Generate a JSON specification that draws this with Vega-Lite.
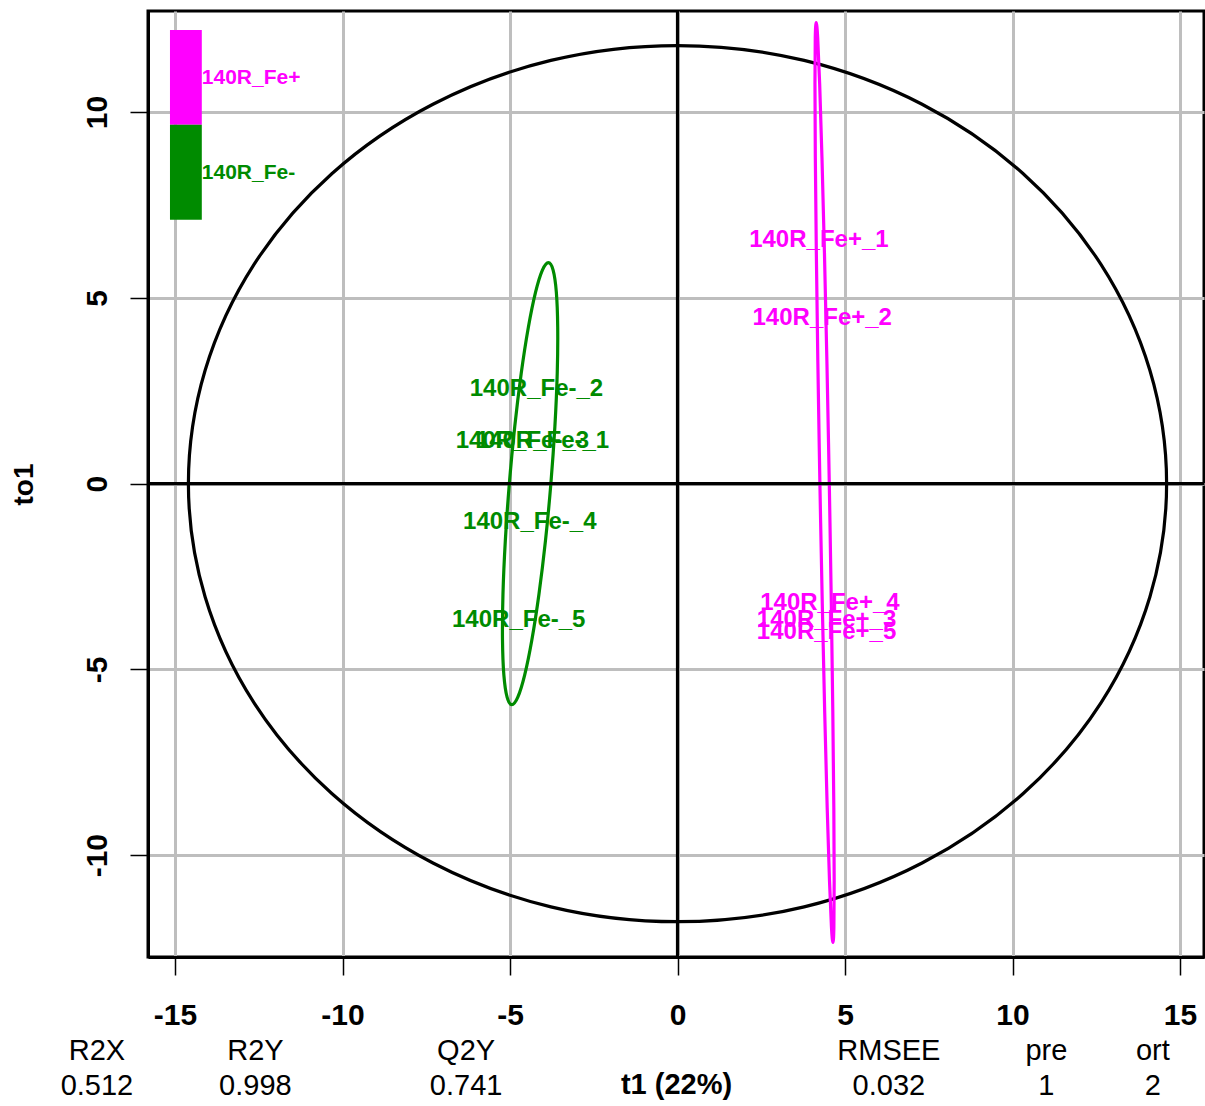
{
  "$schema": "https://vega.github.io/schema/vega-lite/v6.json",
  "width": 1056,
  "height": 946,
  "autosize": {"type": "none"},
  "padding": {"left": 148, "top": 11, "right": 1, "bottom": 149},
  "background": "white",
  "config": {
    "view": {"stroke": "black", "strokeWidth": 3},
    "font": "Liberation Sans",
    "text": {"font": "Liberation Sans"}
  },
  "datasets": {
    "circle": [
      {"i": 0, "x": 14.6, "y": 0}, {"i": 1, "x": 14.10, "y": 3.05}, {"i": 2, "x": 12.64, "y": 5.90},
      {"i": 3, "x": 10.32, "y": 8.34}, {"i": 4, "x": 7.30, "y": 10.21}, {"i": 5, "x": 3.78, "y": 11.39},
      {"i": 6, "x": 0, "y": 11.79}, {"i": 7, "x": -3.78, "y": 11.39}, {"i": 8, "x": -7.30, "y": 10.21},
      {"i": 9, "x": -10.32, "y": 8.34}, {"i": 10, "x": -12.64, "y": 5.90}, {"i": 11, "x": -14.10, "y": 3.05},
      {"i": 12, "x": -14.6, "y": 0}, {"i": 13, "x": -14.10, "y": -3.05}, {"i": 14, "x": -12.64, "y": -5.90},
      {"i": 15, "x": -10.32, "y": -8.34}, {"i": 16, "x": -7.30, "y": -10.21}, {"i": 17, "x": -3.78, "y": -11.39},
      {"i": 18, "x": 0, "y": -11.79}, {"i": 19, "x": 3.78, "y": -11.39}, {"i": 20, "x": 7.30, "y": -10.21},
      {"i": 21, "x": 10.32, "y": -8.34}, {"i": 22, "x": 12.64, "y": -5.90}, {"i": 23, "x": 14.10, "y": -3.05}
    ],
    "ellipses": [
      {"g": "140R_Fe-", "i": 0, "x": -3.854, "y": 5.95}, {"g": "140R_Fe-", "i": 1, "x": -3.713, "y": 5.747},
      {"g": "140R_Fe-", "i": 2, "x": -3.617, "y": 5.153}, {"g": "140R_Fe-", "i": 3, "x": -3.576, "y": 4.207},
      {"g": "140R_Fe-", "i": 4, "x": -3.590, "y": 2.975}, {"g": "140R_Fe-", "i": 5, "x": -3.660, "y": 1.540},
      {"g": "140R_Fe-", "i": 6, "x": -3.780, "y": 0}, {"g": "140R_Fe-", "i": 7, "x": -3.942, "y": -1.540},
      {"g": "140R_Fe-", "i": 8, "x": -4.136, "y": -2.975}, {"g": "140R_Fe-", "i": 9, "x": -4.348, "y": -4.207},
      {"g": "140R_Fe-", "i": 10, "x": -4.563, "y": -5.153}, {"g": "140R_Fe-", "i": 11, "x": -4.767, "y": -5.747},
      {"g": "140R_Fe-", "i": 12, "x": -4.946, "y": -5.95}, {"g": "140R_Fe-", "i": 13, "x": -5.087, "y": -5.747},
      {"g": "140R_Fe-", "i": 14, "x": -5.183, "y": -5.153}, {"g": "140R_Fe-", "i": 15, "x": -5.224, "y": -4.207},
      {"g": "140R_Fe-", "i": 16, "x": -5.210, "y": -2.975}, {"g": "140R_Fe-", "i": 17, "x": -5.140, "y": -1.540},
      {"g": "140R_Fe-", "i": 18, "x": -5.020, "y": 0}, {"g": "140R_Fe-", "i": 19, "x": -4.858, "y": 1.540},
      {"g": "140R_Fe-", "i": 20, "x": -4.664, "y": 2.975}, {"g": "140R_Fe-", "i": 21, "x": -4.452, "y": 4.207},
      {"g": "140R_Fe-", "i": 22, "x": -4.237, "y": 5.153}, {"g": "140R_Fe-", "i": 23, "x": -4.033, "y": 5.747},
      {"g": "140R_Fe+", "i": 0, "x": 4.140, "y": 12.41}, {"g": "140R_Fe+", "i": 1, "x": 4.185, "y": 11.99},
      {"g": "140R_Fe+", "i": 2, "x": 4.244, "y": 10.75}, {"g": "140R_Fe+", "i": 3, "x": 4.312, "y": 8.78},
      {"g": "140R_Fe+", "i": 4, "x": 4.386, "y": 6.22}, {"g": "140R_Fe+", "i": 5, "x": 4.461, "y": 3.23},
      {"g": "140R_Fe+", "i": 6, "x": 4.530, "y": 0.03}, {"g": "140R_Fe+", "i": 7, "x": 4.590, "y": -3.17},
      {"g": "140R_Fe+", "i": 8, "x": 4.636, "y": -6.16}, {"g": "140R_Fe+", "i": 9, "x": 4.666, "y": -8.72},
      {"g": "140R_Fe+", "i": 10, "x": 4.677, "y": -10.69}, {"g": "140R_Fe+", "i": 11, "x": 4.668, "y": -11.93},
      {"g": "140R_Fe+", "i": 12, "x": 4.640, "y": -12.35}, {"g": "140R_Fe+", "i": 13, "x": 4.595, "y": -11.93},
      {"g": "140R_Fe+", "i": 14, "x": 4.537, "y": -10.69}, {"g": "140R_Fe+", "i": 15, "x": 4.468, "y": -8.72},
      {"g": "140R_Fe+", "i": 16, "x": 4.394, "y": -6.16}, {"g": "140R_Fe+", "i": 17, "x": 4.320, "y": -3.17},
      {"g": "140R_Fe+", "i": 18, "x": 4.250, "y": 0.03}, {"g": "140R_Fe+", "i": 19, "x": 4.190, "y": 3.23},
      {"g": "140R_Fe+", "i": 20, "x": 4.144, "y": 6.22}, {"g": "140R_Fe+", "i": 21, "x": 4.114, "y": 8.78},
      {"g": "140R_Fe+", "i": 22, "x": 4.103, "y": 10.75}, {"g": "140R_Fe+", "i": 23, "x": 4.112, "y": 11.99}
    ],
    "samples": [
      {"lab": "140R_Fe+_1", "g": "140R_Fe+", "x": 4.22, "y": 6.57},
      {"lab": "140R_Fe+_2", "g": "140R_Fe+", "x": 4.32, "y": 4.46},
      {"lab": "140R_Fe+_3", "g": "140R_Fe+", "x": 4.45, "y": -3.67},
      {"lab": "140R_Fe+_4", "g": "140R_Fe+", "x": 4.55, "y": -3.21},
      {"lab": "140R_Fe+_5", "g": "140R_Fe+", "x": 4.45, "y": -3.99},
      {"lab": "140R_Fe-_1", "g": "140R_Fe-", "x": -4.03, "y": 1.15},
      {"lab": "140R_Fe-_2", "g": "140R_Fe-", "x": -4.21, "y": 2.55},
      {"lab": "140R_Fe-_3", "g": "140R_Fe-", "x": -4.63, "y": 1.15},
      {"lab": "140R_Fe-_4", "g": "140R_Fe-", "x": -4.41, "y": -1.02},
      {"lab": "140R_Fe-_5", "g": "140R_Fe-", "x": -4.74, "y": -3.67}
    ],
    "legend": [
      {"g": "140R_Fe+", "x": -15.15, "x2": -14.20, "y": 12.21, "y2": 9.66, "ym": 10.92},
      {"g": "140R_Fe-", "x": -15.15, "x2": -14.20, "y": 9.66, "y2": 7.10, "ym": 8.36}
    ],
    "zeroX": [{"x": 0}],
    "zeroY": [{"y": 0}],
    "stats": [
      {"t": "R2X", "x": -17.33, "y": -15.27}, {"t": "0.512", "x": -17.33, "y": -16.21},
      {"t": "R2Y", "x": -12.60, "y": -15.27}, {"t": "0.998", "x": -12.60, "y": -16.21},
      {"t": "Q2Y", "x": -6.31, "y": -15.27}, {"t": "0.741", "x": -6.31, "y": -16.21},
      {"t": "RMSEE", "x": 6.31, "y": -15.27}, {"t": "0.032", "x": 6.31, "y": -16.21},
      {"t": "pre", "x": 11.01, "y": -15.27}, {"t": "1", "x": 11.01, "y": -16.21},
      {"t": "ort", "x": 14.19, "y": -15.27}, {"t": "2", "x": 14.19, "y": -16.21}
    ]
  },
  "layer": [
    {
      "data": {"name": "circle"},
      "mark": {"type": "line", "color": "black", "strokeWidth": 3.2, "interpolate": "cardinal-closed"},
      "encoding": {
        "x": {
          "field": "x", "type": "quantitative", "title": "t1 (22%)",
          "scale": {"domain": [-15.806, 15.716], "nice": false, "zero": false},
          "axis": {
            "values": [-15, -10, -5, 0, 5, 10, 15],
            "labelExpr": "toString(datum.value)",
            "grid": true, "gridColor": "#BEBEBE", "gridWidth": 3,
            "domain": true, "domainColor": "black", "domainWidth": 3,
            "ticks": true, "tickSize": 18, "tickColor": "black", "tickWidth": 1.5,
            "labelFont": "Liberation Sans", "labelFontWeight": "bold", "labelFontSize": 30,
            "labelColor": "black", "labelPadding": 25, "labelFlush": false, "labelOverlap": false,
            "titleFont": "Liberation Sans", "titleFontWeight": "bold", "titleFontSize": 29,
            "titleColor": "black", "titlePadding": 40
          }
        },
        "y": {
          "field": "y", "type": "quantitative", "title": "to1",
          "scale": {"domain": [-12.74, 12.72], "nice": false, "zero": false},
          "axis": {
            "values": [-10, -5, 0, 5, 10],
            "labelExpr": "toString(datum.value)",
            "grid": true, "gridColor": "#BEBEBE", "gridWidth": 3,
            "domain": true, "domainColor": "black", "domainWidth": 3,
            "ticks": true, "tickSize": 18, "tickColor": "black", "tickWidth": 1.5,
            "labelFont": "Liberation Sans", "labelFontWeight": "bold", "labelFontSize": 30,
            "labelColor": "black", "labelPadding": 18, "labelAngle": -90,
            "labelAlign": "center", "labelBaseline": "bottom",
            "labelFlush": false, "labelOverlap": false,
            "titleFont": "Liberation Sans", "titleFontWeight": "bold", "titleFontSize": 28,
            "titleColor": "black", "titlePadding": 44
          }
        },
        "order": {"field": "i", "type": "quantitative"}
      }
    },
    {
      "data": {"name": "ellipses"},
      "mark": {"type": "line", "strokeWidth": 3.2, "interpolate": "cardinal-closed"},
      "encoding": {
        "x": {"field": "x", "type": "quantitative", "title": "t1 (22%)", "scale": {"domain": [-15.806, 15.716], "nice": false, "zero": false}},
        "y": {"field": "y", "type": "quantitative", "title": "to1", "scale": {"domain": [-12.74, 12.72], "nice": false, "zero": false}},
        "color": {"field": "g", "type": "nominal", "scale": {"domain": ["140R_Fe+", "140R_Fe-"], "range": ["#FF00FF", "#008B00"]}, "legend": null},
        "order": {"field": "i", "type": "quantitative"}
      }
    },
    {
      "data": {"name": "zeroX"},
      "mark": {"type": "rule", "color": "black", "strokeWidth": 3.2},
      "encoding": {
        "x": {"field": "x", "type": "quantitative", "title": "t1 (22%)", "scale": {"domain": [-15.806, 15.716], "nice": false, "zero": false}}
      }
    },
    {
      "data": {"name": "zeroY"},
      "mark": {"type": "rule", "color": "black", "strokeWidth": 3.2},
      "encoding": {
        "y": {"field": "y", "type": "quantitative", "title": "to1", "scale": {"domain": [-12.74, 12.72], "nice": false, "zero": false}}
      }
    },
    {
      "data": {"name": "samples"},
      "mark": {"type": "text", "fontWeight": "bold", "fontSize": 24, "align": "center", "baseline": "middle", "font": "Liberation Sans"},
      "encoding": {
        "x": {"field": "x", "type": "quantitative", "title": "t1 (22%)", "scale": {"domain": [-15.806, 15.716], "nice": false, "zero": false}},
        "y": {"field": "y", "type": "quantitative", "title": "to1", "scale": {"domain": [-12.74, 12.72], "nice": false, "zero": false}},
        "text": {"field": "lab"},
        "color": {"field": "g", "type": "nominal", "scale": {"domain": ["140R_Fe+", "140R_Fe-"], "range": ["#FF00FF", "#008B00"]}, "legend": null}
      }
    },
    {
      "data": {"name": "legend"},
      "mark": {"type": "rect"},
      "encoding": {
        "x": {"field": "x", "type": "quantitative", "title": "t1 (22%)", "scale": {"domain": [-15.806, 15.716], "nice": false, "zero": false}},
        "x2": {"field": "x2"},
        "y": {"field": "y", "type": "quantitative", "title": "to1", "scale": {"domain": [-12.74, 12.72], "nice": false, "zero": false}},
        "y2": {"field": "y2"},
        "color": {"field": "g", "type": "nominal", "scale": {"domain": ["140R_Fe+", "140R_Fe-"], "range": ["#FF00FF", "#008B00"]}, "legend": null}
      }
    },
    {
      "data": {"name": "legend"},
      "mark": {"type": "text", "fontWeight": "bold", "fontSize": 21, "align": "left", "baseline": "middle", "font": "Liberation Sans"},
      "encoding": {
        "x": {"field": "x2", "type": "quantitative", "title": "t1 (22%)", "scale": {"domain": [-15.806, 15.716], "nice": false, "zero": false}},
        "y": {"field": "ym", "type": "quantitative", "title": "to1", "scale": {"domain": [-12.74, 12.72], "nice": false, "zero": false}},
        "text": {"field": "g"},
        "color": {"field": "g", "type": "nominal", "scale": {"domain": ["140R_Fe+", "140R_Fe-"], "range": ["#FF00FF", "#008B00"]}, "legend": null}
      }
    },
    {
      "data": {"name": "stats"},
      "mark": {"type": "text", "fontSize": 29, "align": "center", "baseline": "middle", "color": "black", "font": "Liberation Sans"},
      "encoding": {
        "x": {"field": "x", "type": "quantitative", "title": "t1 (22%)", "scale": {"domain": [-15.806, 15.716], "nice": false, "zero": false}},
        "y": {"field": "y", "type": "quantitative", "title": "to1", "scale": {"domain": [-12.74, 12.72], "nice": false, "zero": false}},
        "text": {"field": "t"}
      }
    }
  ]
}
